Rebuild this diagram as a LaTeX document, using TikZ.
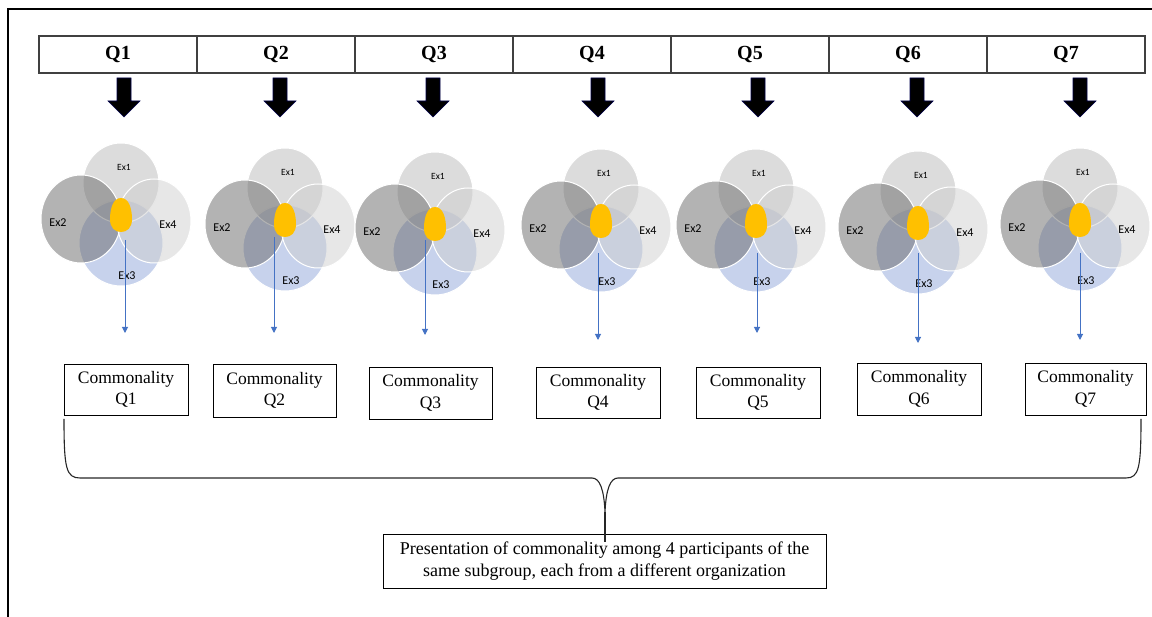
\documentclass[tikz,border=0pt]{standalone}
\usepackage{fontspec}
\setmainfont{Liberation Serif}
\newfontfamily\exfont{Carlito}
\usetikzlibrary{arrows.meta}
\definecolor{exone}{HTML}{B9B9B9}
\definecolor{extwo}{HTML}{686868}
\definecolor{exfour}{HTML}{CFCFCF}
\definecolor{exthree}{HTML}{8FA6DA}
\definecolor{blob}{HTML}{FFC000}
\definecolor{bluearr}{HTML}{4472C4}
\definecolor{hdrline}{HTML}{404040}
\tikzset{
  hdr/.style={draw=hdrline,line width=1.2pt,minimum width=158pt,minimum height=37pt,inner sep=0pt,
    font=\fontsize{20}{24}\selectfont\bfseries},
  vc/.style={draw=white,line width=1pt,fill opacity=0.5},
  exlab/.style={font=\exfont\fontsize{12}{14}\selectfont,inner sep=0pt},
  exlabs/.style={font=\exfont\fontsize{9.5}{11}\selectfont,inner sep=0pt},
  cbox/.style={draw=black,line width=0.9pt,inner sep=0pt,align=center,
    font=\fontsize{17.5}{21.5}\selectfont},
  bigbox/.style={draw=black,line width=0.9pt,inner sep=0pt,align=center,minimum width=443pt,minimum height=54pt,
    font=\fontsize{18}{22}\selectfont},
  blockarr/.style={fill=black,draw=black!70!blue,line width=0.6pt},
  bluearrow/.style={draw=bluearr,line width=1pt,-{Triangle[length=6pt,width=6pt]}},
  brace/.style={draw=black!85,line width=1.1pt}
}
\begin{document}
\begin{tikzpicture}[x=1pt,y=-1pt]
\useasboundingbox (0,0) rectangle (1152,617);
% frame
\draw[line width=1.6pt] (8,617) -- (8,9) -- (1152,9);
% header cells
\foreach \i in {1,...,7}{
  \node[hdr] (q\i) at ({39+158*(\i-0.5)},54.5) {Q\i};
}
% columns
\foreach \i/\ax/\bx/\by/\ux/\uy/\ey/\cx/\cy/\cw/\ch in {
  1/124/121/215/125/240/333/126/389.5/124/51,
  2/280/285/220/274/237/333/274.5/390.5/123/53,
  3/433/435/224/425/240/335/430.5/393/123/52,
  4/598/601/221/598/253/340/598/392.5/124/51,
  5/758/756/221/757/253/333/758/392.5/124/51,
  6/917/918/223/918/253/343/919/389/124/52,
  7/1080/1080/220/1080/253/340/1085.5/389/121/52}{
  % block arrow
  \fill[blockarr] (\ax-7,78) -- (\ax+7,78) -- (\ax+7,101) -- (\ax+16,101) -- (\ax,117) -- (\ax-16,101) -- (\ax-7,101) -- cycle;
  % venn
  \path[vc,fill=exthree] (\bx,\by+28) ellipse [x radius=42pt,y radius=43pt];
  \path[vc,fill=exone] (\bx,\by-32) ellipse [x radius=38pt,y radius=40pt];
  \path[vc,fill=extwo] (\bx-40,\by+4) ellipse [x radius=40pt,y radius=44pt];
  \path[vc,fill=exfour] (\bx+33,\by+6) ellipse [x radius=37pt,y radius=42pt];
  \fill[blob] (\bx,\by-17) .. controls (\bx+8,\by-17) and (\bx+11,\by-6) .. (\bx+11,\by+4)
     .. controls (\bx+11,\by+13) and (\bx+6,\by+17) .. (\bx,\by+17)
     .. controls (\bx-6,\by+17) and (\bx-11,\by+13) .. (\bx-11,\by+4)
     .. controls (\bx-11,\by-6) and (\bx-8,\by-17) .. (\bx,\by-17) -- cycle;
  \node[exlabs] (e1\i) at (\bx+3,\by-48) {Ex1};
  \node[exlab] (e2\i) at (\bx-63,\by+8) {Ex2};
  \node[exlab] (e4\i) at (\bx+47,\by+10) {Ex4};
  \node[exlab] (e3\i) at (\bx+6,\by+61) {Ex3};
  % blue arrow
  \coordinate (bs\i) at (\ux,\uy);
  \coordinate (be\i) at (\ux,\ey);
  \draw[bluearrow] (bs\i) -- (be\i);
  % commonality box
  \node[cbox,minimum width=\cw pt,minimum height=\ch pt] (c\i) at (\cx,\cy) {Commonality\\Q\i};
}
% bottom box
\node[bigbox] (pres) at (604.5,561) {Presentation of commonality among 4 participants of the\\same subgroup, each from a different organization};
% brace
\coordinate (bl) at (64,419);
\coordinate (br) at (1141,419);
\coordinate (bm) at (605,512);
\draw[brace] (bl) .. controls (64,468) and (66,478) .. (80,478) -- (592,478)
   .. controls (600,478) and (604,490) .. (bm)
   .. controls (606,490) and (610,478) .. (618,478) -- (1126,478)
   .. controls (1139,478) and (1141,468) .. (br);
\draw[brace] (bm) -- (pres.north -| bm) -- ++(0,8);
\end{tikzpicture}
\end{document}
